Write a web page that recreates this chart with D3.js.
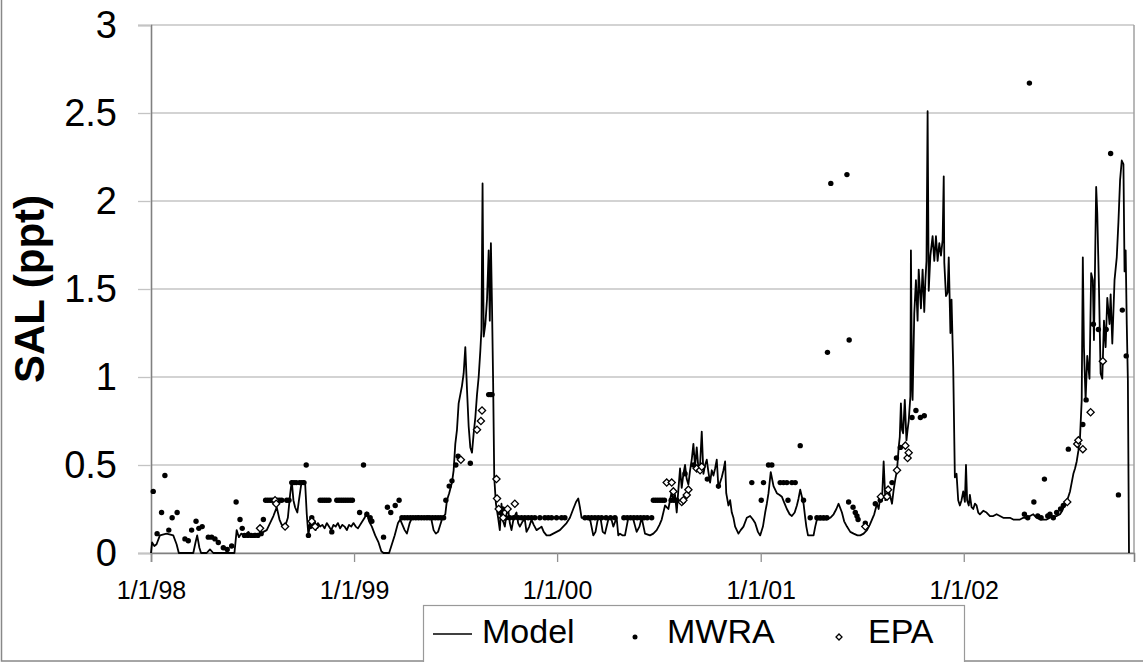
<!DOCTYPE html>
<html>
<head>
<meta charset="utf-8">
<script src="https://cdn.jsdelivr.net/npm/d3@7"></script>
<style>
  body { margin: 0; background: #fff; }
  svg { display: block; font-family: "Liberation Sans", Arial, sans-serif; }
  .tick text { fill: #000; }
</style>
</head>
<body>
<div id="chart"></div>
<script>
// values: [days since 1/1/98, salinity ppt]
const modelSeries = [
  [0,0],[2,0.06],[6,0.04],[10,0.05],[16,0.1],[28,0.11],[40,0.1],[46,0.05],[50,0],[76,0],[80,0.06],[83,0.1],[87,0.03],[90,0],
  [100,0],[106,0.02],[112,0],[150,0],[154,0.13],[158,0.09],[162,0.11],[168,0.1],[175,0.12],[182,0.09],[188,0.11],[195,0.1],
  [202,0.12],[208,0.13],[214,0.17],[220,0.21],[226,0.26],[231,0.19],[235,0.16],[241,0.15],[246,0.2],[250,0.33],[253,0.41],
  [256,0.3],[259,0.26],[263,0.23],[266,0.3],[270,0.39],[274,0.41],[277,0.4],[280,0.22],[283,0.1],[287,0.2],[292,0.16],
  [296,0.13],[300,0.17],[304,0.15],[308,0.16],[312,0.14],[316,0.17],[320,0.15],[324,0.13],[328,0.16],[332,0.15],[336,0.17],
  [340,0.14],[344,0.16],[348,0.15],[352,0.13],[356,0.16],[360,0.15],[364,0.17],[368,0.15],[372,0.14],[378,0.17],[384,0.2],
  [388,0.23],[392,0.18],[397,0.15],[403,0.1],[409,0.06],[414,0.01],[418,0],[428,0],[433,0.05],[438,0.1],[444,0.17],[448,0.19],
  [452,0.16],[456,0.13],[460,0.11],[465,0.17],[469,0.2],[475,0.2],[480,0.21],[486,0.2],[492,0.2],[498,0.21],[504,0.19],
  [508,0.13],[512,0.11],[516,0.12],[520,0.16],[524,0.2],[529,0.22],[532,0.3],[536,0.34],[541,0.4],[544,0.47],[547,0.62],
  [550,0.7],[553,0.85],[556,0.9],[559,0.95],[562,1.02],[565,1.17],[568,0.93],[571,0.72],[574,0.6],[577,0.57],[580,0.68],
  [583,0.77],[586,0.9],[589,1.0],[592,1.15],[594,1.27],[596,2.1],[598,1.23],[601,1.3],[604,1.44],[607,1.72],[609,1.32],
  [611,1.76],[613,1.4],[615,0.97],[617,0.43],[620,0.28],[624,0.2],[627,0.13],[630,0.28],[633,0.18],[636,0.15],[639,0.22],
  [642,0.25],[645,0.17],[648,0.13],[652,0.2],[657,0.23],[660,0.17],[663,0.15],[668,0.18],[672,0.19],[675,0.12],[680,0.15],
  [684,0.19],[688,0.16],[693,0.13],[698,0.14],[702,0.15],[706,0.12],[711,0.1],[717,0.1],[723,0.11],[729,0.12],[735,0.13],
  [741,0.15],[747,0.17],[753,0.2],[759,0.25],[764,0.29],[768,0.31],[771,0.26],[774,0.2],[780,0.2],[786,0.2],[790,0.18],
  [795,0.1],[799,0.12],[803,0.19],[808,0.2],[812,0.12],[816,0.11],[822,0.19],[827,0.2],[831,0.15],[837,0.2],[840,0.1],
  [843,0.11],[848,0.1],[852,0.1],[858,0.2],[867,0.19],[873,0.12],[878,0.15],[882,0.2],[888,0.11],[897,0.1],[903,0.11],
  [909,0.13],[914,0.16],[918,0.19],[924,0.27],[930,0.25],[933,0.3],[936,0.35],[939,0.3],[942,0.33],[945,0.23],[948,0.36],
  [951,0.48],[954,0.37],[957,0.45],[960,0.5],[963,0.42],[966,0.39],[969,0.47],[972,0.53],[975,0.62],[978,0.49],[981,0.6],
  [984,0.48],[987,0.5],[990,0.69],[993,0.45],[996,0.5],[999,0.53],[1002,0.46],[1005,0.4],[1008,0.47],[1011,0.44],[1014,0.48],
  [1017,0.53],[1020,0.37],[1023,0.4],[1026,0.43],[1029,0.47],[1032,0.52],[1034,0.34],[1038,0.27],[1041,0.3],[1044,0.23],
  [1047,0.2],[1050,0.15],[1056,0.11],[1060,0.13],[1065,0.15],[1071,0.2],[1077,0.21],[1082,0.19],[1086,0.17],[1091,0.12],
  [1095,0.1],[1100,0.15],[1104,0.23],[1107,0.28],[1110,0.34],[1114,0.46],[1119,0.38],[1125,0.34],[1130,0.33],[1134,0.32],
  [1139,0.28],[1143,0.25],[1148,0.22],[1152,0.21],[1157,0.23],[1161,0.27],[1164,0.31],[1167,0.36],[1170,0.32],[1173,0.28],
  [1176,0.2],[1178,0.15],[1181,0.1],[1191,0.1],[1194,0.15],[1197,0.19],[1205,0.19],[1215,0.19],[1221,0.2],[1227,0.22],
  [1232,0.25],[1236,0.28],[1242,0.23],[1246,0.18],[1251,0.15],[1257,0.12],[1263,0.11],[1270,0.1],[1275,0.1],[1281,0.11],
  [1287,0.13],[1292,0.16],[1296,0.19],[1300,0.22],[1305,0.28],[1308,0.25],[1311,0.32],[1314,0.3],[1317,0.52],[1320,0.3],
  [1323,0.33],[1326,0.36],[1329,0.32],[1332,0.28],[1335,0.36],[1338,0.42],[1341,0.47],[1344,0.6],[1346,0.66],[1348,0.85],
  [1350,0.7],[1352,0.68],[1355,0.87],[1358,0.64],[1360,0.7],[1362,0.75],[1365,0.89],[1366,1.72],[1368,0.95],[1369,0.87],
  [1372,1.36],[1375,1.55],[1378,1.32],[1380,1.61],[1384,1.39],[1387,1.61],[1390,1.37],[1392,1.55],[1394,1.66],[1396,2.51],
  [1398,1.49],[1401,1.69],[1405,1.8],[1408,1.66],[1411,1.8],[1414,1.66],[1417,1.76],[1420,1.69],[1423,1.78],[1425,2.14],
  [1426,1.65],[1429,1.46],[1432,1.48],[1434,1.68],[1437,1.25],[1439,1.44],[1442,1.06],[1445,0.43],[1448,0.45],[1451,0.3],
  [1454,0.27],[1457,0.3],[1460,0.35],[1463,0.29],[1465,0.5],[1467,0.3],[1470,0.27],[1472,0.33],[1475,0.26],[1478,0.25],
  [1481,0.28],[1484,0.27],[1487,0.23],[1490,0.22],[1496,0.24],[1502,0.23],[1508,0.21],[1514,0.21],[1520,0.22],[1526,0.21],
  [1532,0.2],[1538,0.2],[1544,0.2],[1550,0.19],[1556,0.19],[1562,0.19],[1568,0.2],[1574,0.2],[1580,0.21],[1586,0.22],
  [1592,0.2],[1598,0.19],[1604,0.19],[1610,0.19],[1616,0.2],[1622,0.21],[1628,0.21],[1634,0.22],[1638,0.24],[1643,0.28],
  [1648,0.31],[1652,0.35],[1655,0.4],[1658,0.45],[1661,0.48],[1664,0.52],[1667,0.58],[1670,0.66],[1673,0.87],[1675,1.68],
  [1677,1.17],[1680,0.87],[1683,1.12],[1687,0.99],[1690,1.59],[1693,1.55],[1695,1.21],[1699,2.08],[1701,1.93],[1704,1.51],
  [1707,1.02],[1710,0.99],[1713,1.32],[1716,1.17],[1719,1.45],[1723,1.3],[1725,1.47],[1728,1.19],[1732,1.55],[1736,1.68],
  [1739,1.88],[1742,2.12],[1745,2.23],[1748,2.21],[1750,1.6],[1752,1.72],[1754,1.3],[1756,0.98],[1758,0]
];

const mwraSeries = [
  [4,0.35],[11,0.11],[19,0.23],[25,0.44],[32,0.13],[38,0.2],[47,0.23],[61,0.08],[67,0.07],[73,0.13],[81,0.18],[86,0.14],
  [92,0.15],[103,0.09],[109,0.09],[115,0.08],[121,0.06],[130,0.03],[137,0.02],[145,0.04],[153,0.29],[160,0.19],[164,0.14],
  [168,0.1],[174,0.1],[180,0.1],[186,0.1],[192,0.1],[198,0.11],[202,0.19],[206,0.3],[210,0.3],[214,0.3],[218,0.3],[227,0.3],
  [231,0.3],[235,0.3],[244,0.3],[248,0.3],[253,0.4],[257,0.4],[261,0.4],[267,0.4],[271,0.4],[275,0.4],[279,0.5],[283,0.1],
  [286,0.15],[289,0.2],[292,0.17],[297,0.15],[304,0.3],[308,0.3],[312,0.3],[316,0.3],[320,0.3],[325,0.12],[334,0.3],[338,0.3],
  [342,0.3],[346,0.3],[350,0.3],[354,0.3],[358,0.3],[362,0.3],[375,0.23],[382,0.5],[388,0.22],[394,0.2],[397,0.18],[418,0.09],
  [425,0.26],[431,0.23],[439,0.27],[446,0.3],[451,0.2],[456,0.2],[461,0.2],[466,0.2],[471,0.2],[476,0.2],[481,0.2],[486,0.2],
  [491,0.2],[496,0.2],[501,0.2],[506,0.2],[511,0.2],[516,0.2],[521,0.2],[526,0.2],[530,0.3],[536,0.38],[541,0.41],[548,0.5],
  [552,0.55],[574,0.51],[607,0.9],[610,0.9],[613,0.9],[627,0.23],[632,0.25],[638,0.2],[645,0.2],[652,0.2],[660,0.2],[666,0.2],
  [672,0.2],[678,0.2],[684,0.2],[690,0.2],[699,0.2],[708,0.2],[714,0.2],[720,0.2],[729,0.2],[738,0.2],[744,0.2],[780,0.2],
  [786,0.2],[792,0.2],[798,0.2],[804,0.2],[810,0.2],[818,0.2],[826,0.2],[834,0.2],[850,0.2],[856,0.2],[862,0.2],[868,0.2],
  [874,0.2],[880,0.2],[886,0.2],[892,0.2],[900,0.2],[903,0.3],[907,0.3],[911,0.3],[915,0.3],[919,0.3],[923,0.3],[935,0.3],
  [940,0.3],[945,0.3],[960,0.45],[975,0.5],[1000,0.42],[1020,0.38],[1080,0.4],[1097,0.3],[1101,0.4],[1110,0.5],[1116,0.5],
  [1131,0.4],[1137,0.4],[1143,0.4],[1145,0.3],[1152,0.4],[1158,0.4],[1167,0.61],[1173,0.3],[1185,0.2],[1197,0.2],[1203,0.2],
  [1209,0.2],[1215,0.2],[1216,1.14],[1222,2.1],[1251,2.15],[1255,1.21],[1254,0.29],[1262,0.26],[1266,0.23],[1269,0.21],
  [1271,0.19],[1284,0.17],[1302,0.28],[1311,0.3],[1332,0.4],[1340,0.54],[1347,0.6],[1368,0.77],[1375,0.81],[1383,0.77],
  [1390,0.78],[1570,0.22],[1576,0.2],[1579,2.67],[1587,0.29],[1594,0.21],[1600,0.2],[1606,0.42],[1612,0.21],[1616,0.22],
  [1622,0.2],[1628,0.23],[1635,0.25],[1640,0.27],[1649,0.59],[1675,0.73],[1681,0.87],[1694,1.3],[1703,1.27],[1717,1.27],
  [1725,2.27],[1739,0.33],[1746,1.38],[1753,1.12]
];

const epaSeries = [
  [196,0.14],[223,0.3],[225,0.28],[241,0.15],[289,0.18],[295,0.15],[557,0.53],[586,0.7],[593,0.75],[595,0.81],[621,0.42],
  [622,0.31],[625,0.25],[633,0.2],[641,0.25],[654,0.28],[927,0.4],[936,0.4],[939,0.35],[954,0.29],[957,0.3],[963,0.33],
  [966,0.36],[981,0.48],[987,0.47],[990,0.49],[1284,0.15],[1312,0.32],[1323,0.32],[1325,0.36],[1341,0.47],[1356,0.61],
  [1360,0.54],[1362,0.57],[1647,0.29],[1665,0.62],[1667,0.64],[1675,0.59],[1689,0.8],[1711,1.09]
];

const yTicks = [0, 0.5, 1, 1.5, 2, 2.5, 3];
const seriesNames = ["Model", "MWRA", "EPA"];
const startDate = new Date(1998, 0, 1);
const lastDay = 1767;

const svgWidth = 1143, svgHeight = 662;
const margin = { top: 25, right: 9, bottom: 109, left: 151 };

const toDate = d => d3.timeDay.offset(startDate, d);

const svg = d3.select("#chart").append("svg")
  .attr("width", svgWidth)
  .attr("height", svgHeight);

// outer chart border
svg.append("rect")
  .attr("x", 1.5).attr("y", -5)
  .attr("width", 1160).attr("height", 666)
  .attr("fill", "none").attr("stroke", "#888").attr("stroke-width", 1.5);

const xScale = d3.scaleTime()
  .domain([startDate, toDate(lastDay)])
  .range([margin.left, svgWidth - margin.right]);

const yScale = d3.scaleLinear()
  .domain([0, 3])
  .range([svgHeight - margin.bottom, margin.top]);

// gridlines
svg.append("g")
  .selectAll("line")
  .data(yTicks)
  .enter().append("line")
  .attr("x1", margin.left).attr("x2", xScale.range()[1])
  .attr("y1", d => yScale(d)).attr("y2", d => yScale(d))
  .attr("stroke", "#c4c4c4").attr("stroke-width", 1.3);

// right border of the plot area
svg.append("line")
  .attr("x1", xScale.range()[1]).attr("x2", xScale.range()[1])
  .attr("y1", yScale(3)).attr("y2", yScale(0))
  .attr("stroke", "#a0a0a0").attr("stroke-width", 1.5);

// axes
const leftAxis = d3.axisLeft(yScale)
  .tickValues(yTicks)
  .tickSize(13)
  .tickPadding(21)
  .tickFormat(d => String(d));

const bottomAxis = d3.axisBottom(xScale)
  .ticks(d3.timeYear.every(1))
  .tickSize(9)
  .tickPadding(19)
  .tickFormat(d3.timeFormat("%-m/%-d/%y"));

const yAxis = svg.append("g")
  .attr("transform", `translate(${margin.left},0)`)
  .call(leftAxis);
yAxis.selectAll(".tick line").attr("stroke", "#c4c4c4").attr("stroke-width", 1.3);
yAxis.selectAll("text").attr("font-size", 38);
yAxis.select(".domain").attr("stroke", "#808080").attr("stroke-width", 1.6);

const xAxis = svg.append("g")
  .attr("transform", `translate(0,${yScale(0)})`)
  .call(bottomAxis);
xAxis.selectAll(".tick line").attr("stroke", "#909090").attr("stroke-width", 1.3);
xAxis.selectAll("text").attr("font-size", 25);
xAxis.select(".domain").attr("stroke", "#808080").attr("stroke-width", 1.6);

// y axis title
svg.append("text")
  .attr("transform", `translate(44, ${(yScale(0) + yScale(3)) / 2}) rotate(-90)`)
  .attr("text-anchor", "middle")
  .attr("font-size", 42)
  .attr("font-weight", "bold")
  .text("SAL (ppt)");

// model line
const line = d3.line()
  .x(d => xScale(toDate(d[0])))
  .y(d => yScale(d[1]));

svg.append("path")
  .datum(modelSeries)
  .attr("d", line)
  .attr("fill", "none")
  .attr("stroke", "#000")
  .attr("stroke-width", 1.8)
  .attr("stroke-linejoin", "round");

// MWRA points
svg.append("g")
  .selectAll("circle")
  .data(mwraSeries)
  .enter().append("circle")
  .attr("cx", d => xScale(toDate(d[0])))
  .attr("cy", d => yScale(d[1]))
  .attr("r", 2.7)
  .attr("fill", "#000");

// EPA points
const diamond = d3.symbol(d3.symbolSquare, 26);
svg.append("g")
  .selectAll("path")
  .data(epaSeries)
  .enter().append("path")
  .attr("d", diamond)
  .attr("transform", d => `translate(${xScale(toDate(d[0]))},${yScale(d[1])}) rotate(45)`)
  .attr("fill", "#fff")
  .attr("stroke", "#000")
  .attr("stroke-width", 1.3);

// legend
const legend = svg.append("g");
legend.append("rect")
  .attr("x", 423.5).attr("y", 605.5)
  .attr("width", 541).attr("height", 60)
  .attr("fill", "#fff").attr("stroke", "#999").attr("stroke-width", 1.2);

legend.append("line")
  .attr("x1", 433).attr("x2", 472).attr("y1", 634).attr("y2", 634)
  .attr("stroke", "#000").attr("stroke-width", 1.6);
legend.append("circle")
  .attr("cx", 635).attr("cy", 637).attr("r", 2.5).attr("fill", "#000");
legend.append("path")
  .attr("d", d3.symbol(d3.symbolSquare, 18))
  .attr("transform", "translate(839,637) rotate(45)")
  .attr("fill", "#fff").attr("stroke", "#000").attr("stroke-width", 1.3);

legend.selectAll("text")
  .data(seriesNames)
  .enter().append("text")
  .attr("x", (d, i) => [482, 667, 868][i])
  .attr("y", 643)
  .attr("font-size", 34)
  .text(d => d);
</script>
</body>
</html>
